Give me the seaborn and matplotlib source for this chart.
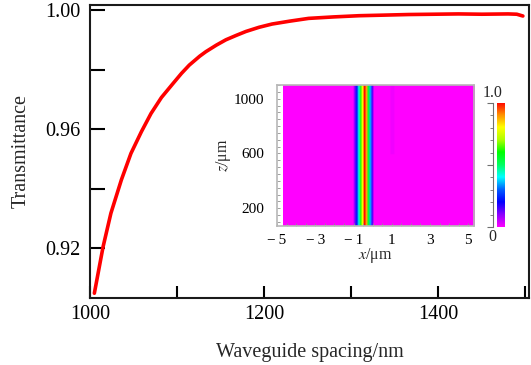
import numpy as np
import pandas as pd
import matplotlib
matplotlib.use("Agg")
import matplotlib.pyplot as plt
from matplotlib.colors import LinearSegmentedColormap
from matplotlib.ticker import MultipleLocator, FixedLocator, NullFormatter
import seaborn as sns

# Transmittance versus waveguide spacing
spacing_nm = [1005, 1015, 1024, 1036, 1047, 1059, 1070, 1082, 1095, 1105, 1114,
              1126, 1133, 1145, 1156, 1168, 1179, 1194, 1209, 1230, 1251, 1280,
              1309, 1338, 1366, 1395, 1423, 1450, 1480, 1490, 1497]
transmittance = [0.9048, 0.9204, 0.9317, 0.9429, 0.9518, 0.9591, 0.9652, 0.9706,
                 0.9752, 0.9787, 0.9815, 0.9845, 0.9860, 0.9882, 0.9900, 0.9915,
                 0.9928, 0.9942, 0.9953, 0.9963, 0.9972, 0.9977, 0.9981, 0.9983,
                 0.9985, 0.9986, 0.9987, 0.9986, 0.9987, 0.9986, 0.9980]

# Normalised field profile across x (0.1 um cells) for the inset map
x_cells = np.round(np.arange(-4.65, 5.3, 0.1), 2)
guide_x = [-0.95, -0.85, -0.75, -0.65, -0.55, -0.45, -0.35, -0.25, -0.15, -0.05]
guide_intensity = [0.12, 0.22, 0.42, 0.62, 0.80, 1.00, 0.88, 0.55, 0.35, 0.15]
faint_x = [0.95, 1.05]
faint_intensity = [0.012, 0.012]
z_rows = np.arange(70, 1101, 10)
faint_zmin = 600

# Colour scale of the field map
cmap_colors = ["#ff00ff", "#8a00ff", "#0000ff", "#0060ff", "#00ffff",
               "#00ff60", "#00ff00", "#b0ff00", "#ffff00", "#ff9000", "#ff0000"]
field_cmap = LinearSegmentedColormap.from_list("field", cmap_colors)

sns.set_theme(style="ticks")
plt.rcParams["font.family"] = ["Liberation Serif", "DejaVu Serif"]
plt.rcParams["mathtext.fontset"] = "stix"

fig = plt.figure(figsize=(5.31, 3.65), dpi=100)
ax = fig.add_axes([0.1695, 0.1836, 0.8267, 0.8027])

df = pd.DataFrame({"spacing": spacing_nm, "T": transmittance})
sns.lineplot(data=df, x="spacing", y="T", ax=ax, color="#ff0000", lw=2.6)

ax.set_xlim(1000, 1504)
ax.set_ylim(0.9032, 1.0017)
ax.xaxis.set_major_locator(FixedLocator([1000, 1200, 1400]))
ax.xaxis.set_minor_locator(FixedLocator([1100, 1300, 1500]))
ax.yaxis.set_major_locator(FixedLocator([0.92, 0.96, 1.00]))
ax.yaxis.set_minor_locator(FixedLocator([0.94, 0.98]))
ax.set_yticklabels(["0.92", "0.96", "1.00"])
ax.set_xticklabels(["1000", "1200", "1400"])
ax.tick_params(axis="y", which="both", direction="in", length=11, width=1.5,
               labelsize=14.5, pad=7, colors="black")
ax.tick_params(axis="x", which="both", direction="in", length=8.5, width=1.5,
               labelsize=14.5, pad=5, colors="black")
for s in ax.spines.values():
    s.set_linewidth(1.5)
    s.set_color("#1a1a1a")
ax.set_xlabel("Waveguide spacing/nm", fontsize=14.5, labelpad=14)
ax.set_ylabel("Transmittance", fontsize=14.5, labelpad=10)

# Inset: field map
field = np.zeros((len(z_rows), len(x_cells)))
for gx, gi in zip(guide_x, guide_intensity):
    field[:, np.argmin(np.abs(x_cells - gx))] = gi
for fx, fi in zip(faint_x, faint_intensity):
    field[z_rows >= faint_zmin, np.argmin(np.abs(x_cells - fx))] = fi

ins = fig.add_axes([0.5217, 0.3808, 0.371, 0.3863])
ins.imshow(field, cmap=field_cmap, vmin=0, vmax=1, origin="lower", aspect="auto",
           interpolation="bilinear",
           extent=[-4.7, 5.3, 70, 1100])
ins.set_xlim(-4.7, 5.3)
ins.set_ylim(70, 1100)
ins.set_xticks([-5, -3, -1, 1, 3, 5])
ins.set_xticklabels(["\u2212\u20095", "\u2212\u20093", "\u2212\u20091", "1", "3", "5"])
ins.xaxis.set_minor_locator(MultipleLocator(0.5))
ins.set_yticks([200, 600, 1000])
ins.yaxis.set_minor_locator(MultipleLocator(50))
ins.tick_params(which="both", direction="in", length=2, width=0.6, color="#909090",
                labelsize=11, labelcolor="black")
ins.tick_params(axis="x", pad=6)
ins.tick_params(axis="y", pad=9)
for s in ins.spines.values():
    s.set_color("#b8b8b8")
    s.set_linewidth(1.2)
ins.set_xlabel("$x$/\u03bcm", fontsize=11.5, labelpad=-1)
ins.set_ylabel("$z$/\u03bcm", fontsize=11.5, labelpad=1)

# Inset colour bar with a bracket scale on its left
cax = fig.add_axes([0.9354, 0.378, 0.0138, 0.3398])
grad = np.linspace(0, 1, 256).reshape(-1, 1)
cax.imshow(grad, cmap=field_cmap, origin="lower", aspect="auto", extent=[0, 1, 0, 1])
cax.set_axis_off()

bax = fig.add_axes([0.9275 - 0.01, 0.378, 0.01, 0.3398])
bax.set_xlim(0, 1)
bax.set_ylim(0, 1)
bax.patch.set_alpha(0)
for side in ["left", "top", "bottom"]:
    bax.spines[side].set_visible(False)
bax.spines["right"].set_color("#707070")
bax.spines["right"].set_linewidth(0.8)
bax.set_xticks([])
bax.yaxis.tick_right()
bax.yaxis.set_major_locator(FixedLocator([0, 0.5, 1]))
bax.yaxis.set_minor_locator(MultipleLocator(0.1))
bax.yaxis.set_major_formatter(NullFormatter())
bax.tick_params(axis="y", which="major", direction="in", length=4, width=0.8, color="#707070")
bax.tick_params(axis="y", which="minor", direction="in", length=2.5, width=0.6, color="#707070")

fig.text(0.9275, 0.745, "1.0", fontsize=11.5, ha="center", va="center")
fig.text(0.9275, 0.351, "0", fontsize=11.5, ha="center", va="center")

fig.savefig("out.png", dpi=100)
